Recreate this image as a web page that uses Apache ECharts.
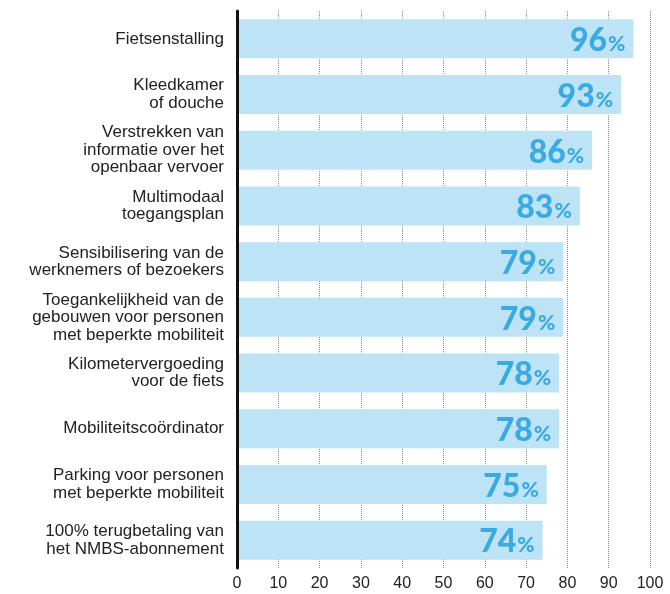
<!DOCTYPE html>
<html lang="nl">
<head>
    <meta charset="UTF-8">
    <title>Mobiliteitsmaatregelen</title>
    <script src="https://cdn.jsdelivr.net/npm/echarts@6/dist/echarts.min.js"></script>
    <style>
        html, body { margin: 0; padding: 0; background: #fff; }
    </style>
</head>
<body>
<div id="main" style="width: 670px;height:594px;"></div>
<script>
    // categorieën (van boven naar onder)
    var categories = [
        'Fietsenstalling',
        'Kleedkamer\nof douche',
        'Verstrekken van\ninformatie over het\nopenbaar vervoer',
        'Multimodaal\ntoegangsplan',
        'Sensibilisering van de\nwerknemers of bezoekers',
        'Toegankelijkheid van de\ngebouwen voor personen\nmet beperkte mobiliteit',
        'Kilometervergoeding\nvoor de fiets',
        'Mobiliteitscoördinator',
        'Parking voor personen\nmet beperkte mobiliteit',
        '100% terugbetaling van\nhet NMBS-abonnement'
    ];
    var values = [96, 93, 86, 83, 79, 79, 78, 78, 75, 74];
    var xTicks = [0, 10, 20, 30, 40, 50, 60, 70, 80, 90, 100];

    var myChart = echarts.init(document.getElementById('main'));
    myChart.setOption({
        animation: false,
        grid: { left: 237, right: 20, top: 11, bottom: 26 },
        xAxis: {
            type: 'value',
            min: xTicks[0],
            max: xTicks[xTicks.length - 1],
            interval: 10,
            axisLine: { show: false },
            axisTick: { show: false },
            axisLabel: {
                color: '#222',
                fontFamily: 'Liberation Sans',
                fontSize: 16,
                margin: 8
            },
            splitLine: {
                show: true,
                lineStyle: { type: 'dotted', color: '#888', width: 1 }
            }
        },
        yAxis: {
            type: 'category',
            inverse: true,
            data: categories,
            z: 5,
            axisLine: { show: true, lineStyle: { color: '#111', width: 3 } },
            axisTick: { show: false },
            axisLabel: {
                color: '#222',
                fontFamily: 'Liberation Sans',
                fontSize: 17,
                lineHeight: 17.5,
                align: 'right',
                margin: 13
            }
        },
        series: [{
            type: 'bar',
            data: values,
            barWidth: '70%',
            itemStyle: { color: '#bde3f7' },
            label: {
                show: true,
                position: 'insideRight',
                distance: 8,
                formatter: function (p) {
                    return '{n|' + p.value + '}{p|%}';
                },
                rich: {
                    n: {
                        color: '#3aaae2',
                        fontFamily: 'Lato',
                        fontWeight: 900,
                        fontSize: 32,
                        padding: [4, 0, 0, 0]
                    },
                    p: {
                        color: '#3aaae2',
                        fontFamily: 'Lato',
                        fontWeight: 900,
                        fontSize: 21,
                        padding: [11, 0, 0, 1]
                    }
                }
            }
        }]
    });
</script>
</body>
</html>
